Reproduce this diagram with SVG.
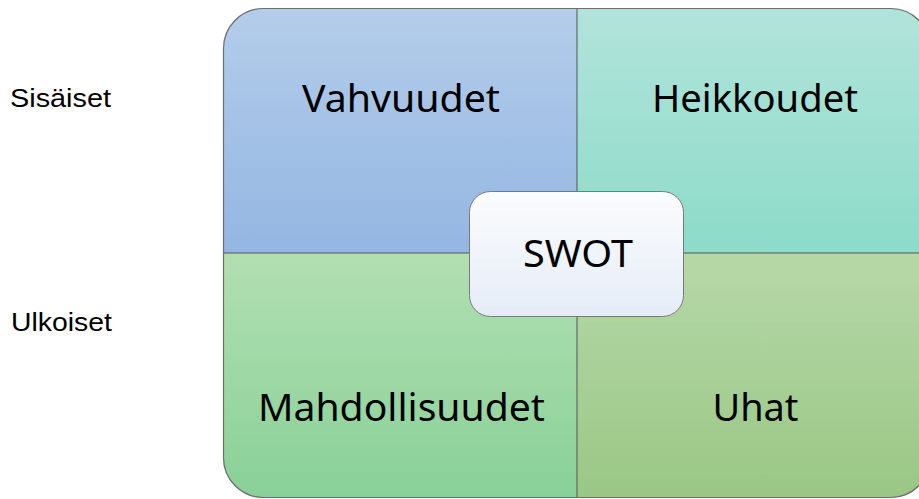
<svg xmlns="http://www.w3.org/2000/svg" width="919" height="499" viewBox="0 0 919 499">
  <defs>
    <linearGradient id="gS" x1="0" y1="0" x2="0" y2="1">
      <stop offset="0" stop-color="#B4CDEA"/>
      <stop offset="1" stop-color="#93B6E2"/>
    </linearGradient>
    <linearGradient id="gW" x1="0" y1="0" x2="0" y2="1">
      <stop offset="0" stop-color="#B1E4DA"/>
      <stop offset="1" stop-color="#8CDBC9"/>
    </linearGradient>
    <linearGradient id="gO" x1="0" y1="0" x2="0" y2="1">
      <stop offset="0" stop-color="#B2DFB2"/>
      <stop offset="1" stop-color="#89D098"/>
    </linearGradient>
    <linearGradient id="gT" x1="0" y1="0" x2="0" y2="1">
      <stop offset="0" stop-color="#B6D8A8"/>
      <stop offset="1" stop-color="#9AC785"/>
    </linearGradient>
    <linearGradient id="gC" x1="0" y1="0" x2="0" y2="1">
      <stop offset="0" stop-color="#FBFCFE"/>
      <stop offset="1" stop-color="#E5ECF7"/>
    </linearGradient>
  </defs>
  <style>
    .side { font-family: "Liberation Sans", Arial, sans-serif; font-size: 26px; fill: #000; }
    .big { font-family: "Noto Sans", "Open Sans", sans-serif; font-size: 39px; fill: #000; text-anchor: middle; }
    .div { stroke: #555; stroke-width: 1; fill: none; }
    .quad { stroke: none; }
  </style>

  <text class="side" x="10" y="107" textLength="101" lengthAdjust="spacingAndGlyphs">Sisäiset</text>
  <text class="side" x="11" y="331" textLength="101" lengthAdjust="spacingAndGlyphs">Ulkoiset</text>

  <g id="strengths">
    <path class="quad" fill="url(#gS)" d="M223,253 V48 A40,40 0 0 1 263,8 H577 V253 Z"/>
    <text class="big" x="401" y="112" textLength="198" lengthAdjust="spacingAndGlyphs">Vahvuudet</text>
  </g>
  <g id="weaknesses">
    <path class="quad" fill="url(#gW)" d="M577,8 H891 A40,40 0 0 1 931,48 V253 H577 Z"/>
    <text class="big" x="755" y="112" textLength="206" lengthAdjust="spacingAndGlyphs">Heikkoudet</text>
  </g>
  <g id="opportunities">
    <path class="quad" fill="url(#gO)" d="M223,253 H577 V498 H263 A40,40 0 0 1 223,458 Z"/>
    <text class="big" x="401.5" y="421" textLength="287" lengthAdjust="spacingAndGlyphs">Mahdollisuudet</text>
  </g>
  <g id="threats">
    <path class="quad" fill="url(#gT)" d="M577,253 H931 V458 A40,40 0 0 1 891,498 H577 Z"/>
    <text class="big" x="755.5" y="421" textLength="86" lengthAdjust="spacingAndGlyphs">Uhat</text>
  </g>

  <g id="connectors">
    <line class="div" x1="577" y1="8" x2="577" y2="498"/>
    <line class="div" x1="223" y1="253" x2="931" y2="253"/>
    <rect x="223.5" y="8.5" width="707" height="489" rx="40" ry="40" fill="none" stroke="#6E6E6E" stroke-width="1.2"/>
  </g>

  <g id="swot">
    <rect x="469.5" y="191.5" width="214" height="125" rx="21" ry="21" fill="url(#gC)" stroke="#7A7A7A" stroke-width="1"/>
    <text class="big" x="578" y="267" textLength="110" lengthAdjust="spacingAndGlyphs">SWOT</text>
  </g>
</svg>
